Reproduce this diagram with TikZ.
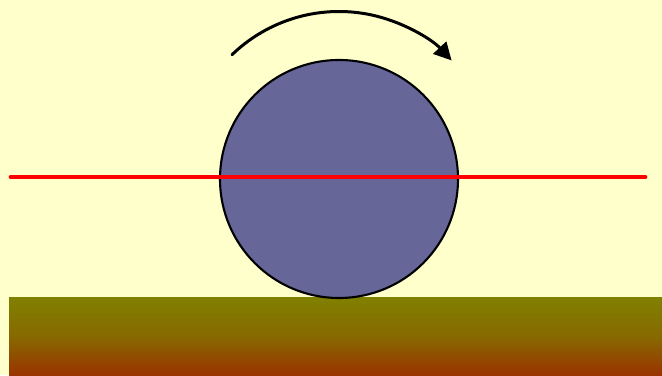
\documentclass[tikz,border=0pt]{standalone}
\usetikzlibrary{arrows.meta}
\definecolor{paper}{HTML}{FFFFCC}
\definecolor{wheelblue}{HTML}{666699}
\definecolor{groundtop}{HTML}{808000}
\definecolor{groundbot}{HTML}{993300}
\tikzset{
    wheel/.style={circle, draw=black, line width=1.2pt, fill=wheelblue,
        minimum size=238*0.02cm, inner sep=0pt},
    axis line/.style={red, line width=2.8pt, line cap=round},
    spin arrow/.style={line width=1.7pt, line cap=round,
        -{Triangle[length=10pt, width=10pt]}}
}
\begin{document}
\begin{tikzpicture}[x=0.02cm, y=0.02cm]
    % background, fixes the picture size
    \fill[paper] (0,0) rectangle (662,375);
    \useasboundingbox (0,0) rectangle (662,375);

    % ground with a vertical colour run
    \shade[top color=groundtop, bottom color=groundbot, middle color=groundtop!70!groundbot]
        (9,0) rectangle (662,77);

    % the rolling wheel
    \node[wheel] (wheel) at (339,196) {};

    % line through the centre
    \coordinate (lineL) at (11,198);
    \coordinate (lineR) at (645,198);
    \draw[axis line] (lineL) -- (lineR);

    % turning direction
    \coordinate (spinC) at (339,209.5);
    \draw[spin arrow] ([shift={(134:154)}]spinC) arc[start angle=134, end angle=43, radius=154];
\end{tikzpicture}
\end{document}
